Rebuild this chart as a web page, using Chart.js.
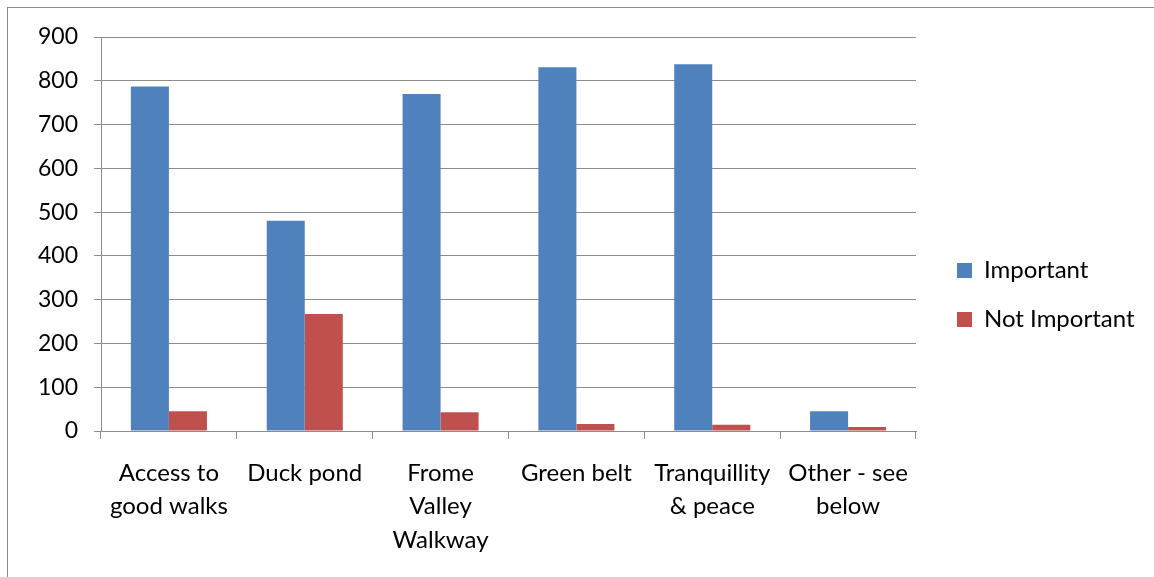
<!DOCTYPE html>
<html lang="en">
<head>
  <meta charset="UTF-8" />
  <title>Importance of features</title>
  <script src="https://cdn.jsdelivr.net/npm/chart.js"></script>
  <style>
    html, body { margin: 0; padding: 0; background: #fff; overflow: hidden; }
    .wrap { position: relative; width: 1154px; height: 577px; }
    .frame { position: absolute; left: 7px; top: 7px; width: 1160px; height: 600px; border: 1px solid #8c8c8c; box-sizing: border-box; }
    canvas { position: absolute; left: 0; top: 0; }
  </style>
</head>
<body>
  <div class="wrap">
    <div class="frame"></div>
    <canvas id="barChart" width="1154" height="577"></canvas>
  </div>

  <script>
    // data
    const categories = [
      ['Access to', 'good walks'],
      'Duck pond',
      ['Frome', 'Valley', 'Walkway'],
      'Green belt',
      ['Tranquillity', '& peace'],
      ['Other - see', 'below']
    ];
    const important = [787, 480, 770, 831, 838, 45];
    const notImportant = [45, 267, 43, 16, 14, 9];
    const yTicks = [0, 100, 200, 300, 400, 500, 600, 700, 800, 900];

    const font = "Lato, 'Liberation Sans', sans-serif";
    const gridColor = '#8c8c8c';

    // keep the legend column at a fixed width, like the original
    const legendFix = {
      id: 'legendFix',
      beforeLayout(chart) {
        const lg = chart.legend;
        if (lg && !lg._fixed) {
          const fit = lg.fit;
          lg.fit = function () { fit.call(this); this.width = 238; };
          lg._fixed = true;
        }
      },
      afterLayout(chart) {
        const lg = chart.legend;
        if (lg) {
          lg.left += 16;
          lg.right += 16;
          lg.top -= 12;
          lg.bottom -= 12;
        }
      }
    };

    new Chart(document.getElementById('barChart'), {
      type: 'bar',
      data: {
        labels: categories,
        datasets: [
          { label: 'Important', data: important, backgroundColor: '#4f81bd' },
          { label: 'Not Important', data: notImportant, backgroundColor: '#c0504d' }
        ]
      },
      options: {
        responsive: false,
        animation: false,
        layout: { padding: { top: 37, left: 0, right: 0, bottom: 0 } },
        datasets: { bar: { categoryPercentage: 0.56, barPercentage: 1 } },
        plugins: {
          legend: {
            position: 'right',
            labels: {
              color: '#000',
              font: { family: font, size: 24 },
              boxWidth: 15,
              boxHeight: 15,
              padding: 25
            }
          },
          tooltip: { enabled: false }
        },
        scales: {
          x: {
            grid: { display: true, drawOnChartArea: false, drawTicks: true, tickLength: 8, color: gridColor, offset: true },
            border: { color: gridColor },
            ticks: {
              color: '#000',
              font: { family: font, size: 24, lineHeight: 1.4 },
              padding: 17,
              maxRotation: 0,
              autoSkip: false
            },
            afterFit(scale) { scale.height = 146; }
          },
          y: {
            min: 0,
            max: 900,
            afterBuildTicks(scale) { scale.ticks = yTicks.map(v => ({ value: v })); },
            grid: { color: gridColor, tickLength: 7 },
            border: { color: gridColor },
            ticks: {
              color: '#000',
              font: { family: font, size: 23 },
              padding: 16
            },
            afterFit(scale) { scale.width = 101; }
          }
        }
      },
      plugins: [legendFix]
    });
  </script>
</body>
</html>
